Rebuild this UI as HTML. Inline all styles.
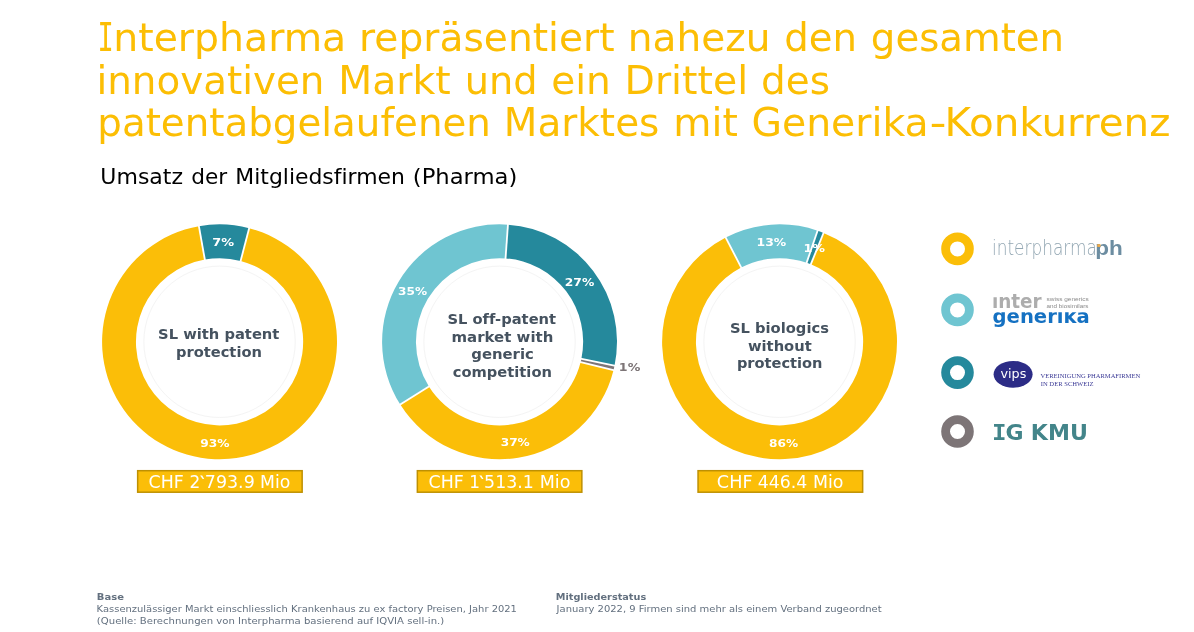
<!DOCTYPE html>
<html lang="de">
<head>
<meta charset="utf-8">
<title>Interpharma – Umsatz der Mitgliedsfirmen (Pharma)</title>
<style>
html,body{margin:0;padding:0;background:#fff;}
body{width:1194px;height:632px;overflow:hidden;}
svg{display:block;}
svg text{white-space:pre;font-variant-ligatures:none;font-kerning:normal;}
</style>
</head>
<body>
<svg width="1194" height="632" viewBox="0 0 1194 632" role="img" aria-label="Umsatz der Mitgliedsfirmen (Pharma)">
<defs>
<clipPath id="ci"><path d="M990,297.3 H999.4 V288 H1046 V312 H990 Z"/></clipPath>
<clipPath id="cg"><rect x="990" y="312.3" width="110" height="20"/></clipPath>
</defs>
<rect width="1194" height="632" fill="#ffffff"/>
<circle cx="219.55" cy="341.8" r="75.7" fill="none" stroke="#f4f4f4" stroke-width="1"/>
<circle cx="499.55" cy="341.8" r="75.7" fill="none" stroke="#f4f4f4" stroke-width="1"/>
<circle cx="779.55" cy="341.8" r="75.7" fill="none" stroke="#f4f4f4" stroke-width="1"/>
<path d="M249.16,228.14 A117.45,117.45 0 1 1 198.87,226.18 L204.83,259.51 A83.6,83.6 0 1 0 240.62,260.90 Z" fill="#FBBE08"/>
<path d="M198.87,226.18 A117.45,117.45 0 0 1 249.16,228.14 L240.62,260.90 A83.6,83.6 0 0 0 204.83,259.51 Z" fill="#25899C"/>
<line x1="240.37" y1="261.87" x2="249.41" y2="227.17" stroke="#fff" stroke-width="1.8"/>
<line x1="205.01" y1="260.49" x2="198.70" y2="225.20" stroke="#fff" stroke-width="1.8"/>
<path d="M613.51,370.21 A117.45,117.45 0 0 1 400.27,404.56 L428.89,386.47 A83.6,83.6 0 0 0 580.67,362.02 Z" fill="#FBBE08"/>
<path d="M400.27,404.56 A117.45,117.45 0 0 1 507.95,224.65 L505.53,258.41 A83.6,83.6 0 0 0 428.89,386.47 Z" fill="#6FC5D1"/>
<path d="M507.95,224.65 A117.45,117.45 0 0 1 614.56,365.62 L581.41,358.75 A83.6,83.6 0 0 0 505.53,258.41 Z" fill="#25899C"/>
<path d="M614.56,365.62 A117.45,117.45 0 0 1 613.51,370.21 L580.67,362.02 A83.6,83.6 0 0 0 581.41,358.75 Z" fill="#7D7577"/>
<line x1="579.70" y1="361.78" x2="614.48" y2="370.46" stroke="#fff" stroke-width="1.8"/>
<line x1="429.73" y1="385.94" x2="399.43" y2="405.09" stroke="#fff" stroke-width="1.8"/>
<line x1="505.46" y1="259.41" x2="508.02" y2="223.65" stroke="#fff" stroke-width="1.8"/>
<line x1="580.43" y1="358.55" x2="615.54" y2="365.82" stroke="#fff" stroke-width="1.8"/>
<path d="M823.55,232.90 A117.45,117.45 0 1 1 725.68,237.43 L741.21,267.51 A83.6,83.6 0 1 0 810.87,264.29 Z" fill="#FBBE08"/>
<path d="M725.68,237.43 A117.45,117.45 0 0 1 817.59,230.68 L806.63,262.71 A83.6,83.6 0 0 0 741.21,267.51 Z" fill="#6FC5D1"/>
<path d="M817.59,230.68 A117.45,117.45 0 0 1 823.55,232.90 L810.87,264.29 A83.6,83.6 0 0 0 806.63,262.71 Z" fill="#25899C"/>
<line x1="810.49" y1="265.21" x2="823.92" y2="231.98" stroke="#fff" stroke-width="1.8"/>
<line x1="741.67" y1="268.40" x2="725.22" y2="236.54" stroke="#fff" stroke-width="1.8"/>
<line x1="806.31" y1="263.65" x2="817.92" y2="229.74" stroke="#fff" stroke-width="1.8"/>
<rect x="137.65" y="470.7" width="164.50" height="21.5" fill="#FBBE08" stroke="#BE9002" stroke-width="1.5"/>
<rect x="417.35" y="470.7" width="164.50" height="21.5" fill="#FBBE08" stroke="#BE9002" stroke-width="1.5"/>
<rect x="698.05" y="470.7" width="164.60" height="21.5" fill="#FBBE08" stroke="#BE9002" stroke-width="1.5"/>
<circle cx="957.5" cy="248.9" r="11.9" fill="none" stroke="#FBBE08" stroke-width="8.8"/>
<circle cx="957.5" cy="309.9" r="11.9" fill="none" stroke="#6FC5D1" stroke-width="8.8"/>
<circle cx="957.5" cy="372.6" r="11.9" fill="none" stroke="#25899C" stroke-width="8.8"/>
<circle cx="957.5" cy="431.5" r="11.9" fill="none" stroke="#7D7577" stroke-width="8.8"/>
<ellipse cx="1013.1" cy="374.3" rx="19.5" ry="13.4" fill="#2C2C86"/>
<text font-size="38.7" font-weight="normal" font-family="'DejaVu Sans','Liberation Sans',sans-serif" fill="#FCBE04"><tspan x="97.38" y="50.7" textLength="16.27" lengthAdjust="spacingAndGlyphs" font-family="'DejaVu Sans Mono','Liberation Mono',monospace">I</tspan><tspan x="113.24" y="50.7" textLength="232.95" lengthAdjust="spacingAndGlyphs">nterpharma</tspan> <tspan x="359.06" y="50.7" textLength="255.53" lengthAdjust="spacingAndGlyphs">repräsentiert</tspan> <tspan x="627.87" y="50.7" textLength="142.58" lengthAdjust="spacingAndGlyphs">nahezu</tspan> <tspan x="784.36" y="50.7" textLength="72.74" lengthAdjust="spacingAndGlyphs">den</tspan> <tspan x="870.85" y="50.7" textLength="193.26" lengthAdjust="spacingAndGlyphs">gesamten</tspan></text>
<text font-size="38.7" font-weight="normal" font-family="'DejaVu Sans','Liberation Sans',sans-serif" fill="#FCBE04"><tspan x="96.44" y="93.7" textLength="228.04" lengthAdjust="spacingAndGlyphs">innovativen</tspan> <tspan x="338.29" y="93.7" textLength="112.38" lengthAdjust="spacingAndGlyphs">Markt</tspan> <tspan x="464.68" y="93.7" textLength="72.90" lengthAdjust="spacingAndGlyphs">und</tspan> <tspan x="551.13" y="93.7" textLength="59.64" lengthAdjust="spacingAndGlyphs">ein</tspan> <tspan x="624.58" y="93.7" textLength="123.50" lengthAdjust="spacingAndGlyphs">Drittel</tspan> <tspan x="761.04" y="93.7" textLength="68.86" lengthAdjust="spacingAndGlyphs">des</tspan></text>
<text font-size="38.7" font-weight="normal" font-family="'DejaVu Sans','Liberation Sans',sans-serif" fill="#FCBE04"><tspan x="97.29" y="136.0" textLength="393.62" lengthAdjust="spacingAndGlyphs">patentabgelaufenen</tspan> <tspan x="503.82" y="136.0" textLength="155.61" lengthAdjust="spacingAndGlyphs">Marktes</tspan> <tspan x="673.36" y="136.0" textLength="64.43" lengthAdjust="spacingAndGlyphs">mit</tspan> <tspan x="751.41" y="136.0" textLength="177.34" lengthAdjust="spacingAndGlyphs">Generika</tspan><tspan x="929.56" y="136.0" textLength="17.04" lengthAdjust="spacingAndGlyphs">-</tspan><tspan x="944.48" y="136.0" textLength="225.98" lengthAdjust="spacingAndGlyphs">Konkurrenz</tspan></text>
<text font-size="21.2" font-weight="normal" font-family="'DejaVu Sans','Liberation Sans',sans-serif" fill="#000"><tspan x="100.38" y="183.5" textLength="82.64" lengthAdjust="spacingAndGlyphs">Umsatz</tspan> <tspan x="191.32" y="183.5" textLength="35.94" lengthAdjust="spacingAndGlyphs">der</tspan> <tspan x="235.33" y="183.5" textLength="169.58" lengthAdjust="spacingAndGlyphs">Mitgliedsfirmen</tspan> <tspan x="412.83" y="183.5" textLength="104.53" lengthAdjust="spacingAndGlyphs">(Pharma)</tspan></text>
<text x="158.11" y="338.7" font-size="14.9" font-weight="bold" font-family="'DejaVu Sans','Liberation Sans',sans-serif" fill="#45525F" textLength="121.25" lengthAdjust="spacingAndGlyphs">SL with patent</text>
<text x="175.97" y="356.7" font-size="14.9" font-weight="bold" font-family="'DejaVu Sans','Liberation Sans',sans-serif" fill="#45525F" textLength="85.94" lengthAdjust="spacingAndGlyphs">protection</text>
<text x="447.52" y="323.5" font-size="14.9" font-weight="bold" font-family="'DejaVu Sans','Liberation Sans',sans-serif" fill="#45525F" textLength="108.53" lengthAdjust="spacingAndGlyphs">SL off-patent</text>
<text x="451.55" y="341.6" font-size="14.9" font-weight="bold" font-family="'DejaVu Sans','Liberation Sans',sans-serif" fill="#45525F" textLength="101.75" lengthAdjust="spacingAndGlyphs">market with</text>
<text x="471.25" y="359.1" font-size="14.9" font-weight="bold" font-family="'DejaVu Sans','Liberation Sans',sans-serif" fill="#45525F" textLength="62.56" lengthAdjust="spacingAndGlyphs">generic</text>
<text x="452.76" y="376.6" font-size="14.9" font-weight="bold" font-family="'DejaVu Sans','Liberation Sans',sans-serif" fill="#45525F" textLength="99.18" lengthAdjust="spacingAndGlyphs">competition</text>
<text x="729.91" y="332.8" font-size="14.9" font-weight="bold" font-family="'DejaVu Sans','Liberation Sans',sans-serif" fill="#45525F" textLength="99.01" lengthAdjust="spacingAndGlyphs">SL biologics</text>
<text x="748.01" y="350.6" font-size="14.9" font-weight="bold" font-family="'DejaVu Sans','Liberation Sans',sans-serif" fill="#45525F" textLength="63.70" lengthAdjust="spacingAndGlyphs">without</text>
<text x="736.88" y="368.1" font-size="14.9" font-weight="bold" font-family="'DejaVu Sans','Liberation Sans',sans-serif" fill="#45525F" textLength="85.63" lengthAdjust="spacingAndGlyphs">protection</text>
<text x="212.34" y="246.1" font-size="11.2" font-weight="bold" font-family="'DejaVu Sans','Liberation Sans',sans-serif" fill="#fff" textLength="21.76" lengthAdjust="spacingAndGlyphs">7%</text>
<text x="200.25" y="447" font-size="11.2" font-weight="bold" font-family="'DejaVu Sans','Liberation Sans',sans-serif" fill="#fff" textLength="29.28" lengthAdjust="spacingAndGlyphs">93%</text>
<text x="398.09" y="294.8" font-size="11.2" font-weight="bold" font-family="'DejaVu Sans','Liberation Sans',sans-serif" fill="#fff" textLength="28.94" lengthAdjust="spacingAndGlyphs">35%</text>
<text x="564.80" y="286.1" font-size="11.2" font-weight="bold" font-family="'DejaVu Sans','Liberation Sans',sans-serif" fill="#fff" textLength="29.44" lengthAdjust="spacingAndGlyphs">27%</text>
<text x="618.89" y="370.8" font-size="11.2" font-weight="bold" font-family="'DejaVu Sans','Liberation Sans',sans-serif" fill="#7D7577" textLength="21.41" lengthAdjust="spacingAndGlyphs">1%</text>
<text x="500.69" y="445.8" font-size="11.2" font-weight="bold" font-family="'DejaVu Sans','Liberation Sans',sans-serif" fill="#fff" textLength="29.05" lengthAdjust="spacingAndGlyphs">37%</text>
<text x="756.62" y="246.2" font-size="11.2" font-weight="bold" font-family="'DejaVu Sans','Liberation Sans',sans-serif" fill="#fff" textLength="29.62" lengthAdjust="spacingAndGlyphs">13%</text>
<text x="803.49" y="252.1" font-size="11.2" font-weight="bold" font-family="'DejaVu Sans','Liberation Sans',sans-serif" fill="#fff" textLength="21.51" lengthAdjust="spacingAndGlyphs">1%</text>
<text x="769.09" y="447" font-size="11.2" font-weight="bold" font-family="'DejaVu Sans','Liberation Sans',sans-serif" fill="#fff" textLength="29.05" lengthAdjust="spacingAndGlyphs">86%</text>
<text font-size="16.9" font-weight="normal" font-family="'DejaVu Sans','Liberation Sans',sans-serif" fill="#fff"><tspan x="148.57" y="488.4" textLength="35.23" lengthAdjust="spacingAndGlyphs">CHF</tspan> <tspan x="189.53" y="488.4" textLength="10.75" lengthAdjust="spacingAndGlyphs">2</tspan><tspan x="199.55" y="489.8" textLength="7.16" lengthAdjust="spacingAndGlyphs" font-weight="bold">`</tspan><tspan x="204.85" y="488.4" textLength="49.91" lengthAdjust="spacingAndGlyphs">793.9</tspan> <tspan x="260.11" y="488.4" textLength="30.28" lengthAdjust="spacingAndGlyphs">Mio</tspan></text>
<text font-size="16.9" font-weight="normal" font-family="'DejaVu Sans','Liberation Sans',sans-serif" fill="#fff"><tspan x="428.57" y="488.4" textLength="35.23" lengthAdjust="spacingAndGlyphs">CHF</tspan> <tspan x="469.30" y="488.4" textLength="10.75" lengthAdjust="spacingAndGlyphs">1</tspan><tspan x="478.75" y="489.8" textLength="7.16" lengthAdjust="spacingAndGlyphs" font-weight="bold">`</tspan><tspan x="484.12" y="488.4" textLength="49.65" lengthAdjust="spacingAndGlyphs">513.1</tspan> <tspan x="539.69" y="488.4" textLength="30.71" lengthAdjust="spacingAndGlyphs">Mio</tspan></text>
<text font-size="16.9" font-weight="normal" font-family="'DejaVu Sans','Liberation Sans',sans-serif" fill="#fff"><tspan x="716.86" y="488.4" textLength="35.66" lengthAdjust="spacingAndGlyphs">CHF</tspan> <tspan x="757.83" y="488.4" textLength="49.47" lengthAdjust="spacingAndGlyphs">446.4</tspan> <tspan x="813.00" y="488.4" textLength="30.49" lengthAdjust="spacingAndGlyphs">Mio</tspan></text>
<text x="992.03" y="255.2" font-size="21.5" font-weight="200" font-family="'DejaVu Sans','Liberation Sans',sans-serif" fill="#93A7B3" textLength="104.84" lengthAdjust="spacingAndGlyphs">interpharma</text>
<text x="1095.23" y="255.2" font-size="20.5" font-weight="bold" font-family="'Liberation Sans','DejaVu Sans',sans-serif" fill="#6C8DA1" textLength="27.50" lengthAdjust="spacingAndGlyphs">ph</text>
<text x="991.95" y="307.9" font-size="19.5" font-weight="bold" font-family="'DejaVu Sans','Liberation Sans',sans-serif" fill="#ADADAD" textLength="49.73" lengthAdjust="spacingAndGlyphs" clip-path="url(#ci)">inter</text>
<text x="992.60" y="323.2" font-size="19.5" font-weight="bold" font-family="'DejaVu Sans','Liberation Sans',sans-serif" fill="#1571C2" textLength="97.18" lengthAdjust="spacingAndGlyphs" clip-path="url(#cg)">generika</text>
<text x="1046.59" y="301.3" font-size="5.2" font-weight="normal" font-family="'Liberation Sans','DejaVu Sans',sans-serif" fill="#8a8a8a" textLength="42.10" lengthAdjust="spacingAndGlyphs">swiss generics</text>
<text x="1046.60" y="308" font-size="5.2" font-weight="normal" font-family="'Liberation Sans','DejaVu Sans',sans-serif" fill="#8a8a8a" textLength="41.92" lengthAdjust="spacingAndGlyphs">and biosimilars</text>
<text x="1000.51" y="378.4" font-size="12.9" font-weight="normal" font-family="'DejaVu Sans','Liberation Sans',sans-serif" fill="#fff" textLength="25.81" lengthAdjust="spacingAndGlyphs">vips</text>
<text x="1040.40" y="378.4" font-size="7" font-weight="normal" font-family="'Liberation Serif','DejaVu Serif',serif" fill="#3B3A96" textLength="99.81" lengthAdjust="spacingAndGlyphs">VEREINIGUNG PHARMAFIRMEN</text>
<text x="1040.76" y="386.3" font-size="7" font-weight="normal" font-family="'Liberation Serif','DejaVu Serif',serif" fill="#3B3A96" textLength="52.80" lengthAdjust="spacingAndGlyphs">IN DER SCHWEIZ</text>
<text font-size="20.7" font-weight="bold" font-family="'DejaVu Sans','Liberation Sans',sans-serif" fill="#43858A"><tspan x="991.96" y="440.4" textLength="14.54" lengthAdjust="spacingAndGlyphs" font-family="'DejaVu Sans Mono','Liberation Mono',monospace">I</tspan><tspan x="1005.64" y="440.4" textLength="18.05" lengthAdjust="spacingAndGlyphs">G</tspan> <tspan x="1030.87" y="440.4" textLength="57.01" lengthAdjust="spacingAndGlyphs">KMU</tspan></text>
<text x="96.89" y="600" font-size="9.2" font-weight="bold" font-family="'DejaVu Sans','Liberation Sans',sans-serif" fill="#63707F" textLength="27.09" lengthAdjust="spacingAndGlyphs">Base</text>
<text x="96.63" y="612.3" font-size="9.3" font-weight="normal" font-family="'DejaVu Sans','Liberation Sans',sans-serif" fill="#63707F" textLength="420.33" lengthAdjust="spacingAndGlyphs">Kassenzulässiger Markt einschliesslich Krankenhaus zu ex factory Preisen, Jahr 2021</text>
<text x="96.89" y="623.7" font-size="9.3" font-weight="normal" font-family="'DejaVu Sans','Liberation Sans',sans-serif" fill="#63707F" textLength="347.33" lengthAdjust="spacingAndGlyphs">(Quelle: Berechnungen von Interpharma basierend auf IQVIA sell-in.)</text>
<text x="555.81" y="600" font-size="9.2" font-weight="bold" font-family="'DejaVu Sans','Liberation Sans',sans-serif" fill="#63707F" textLength="90.36" lengthAdjust="spacingAndGlyphs">Mitgliederstatus</text>
<text x="556.64" y="612.3" font-size="9.3" font-weight="normal" font-family="'DejaVu Sans','Liberation Sans',sans-serif" fill="#63707F" textLength="325.01" lengthAdjust="spacingAndGlyphs">January 2022, 9 Firmen sind mehr als einem Verband zugeordnet</text>
<rect x="1097.3" y="244.2" width="3.2" height="2.7" fill="#F6AC45"/>
</svg>
</body>
</html>
